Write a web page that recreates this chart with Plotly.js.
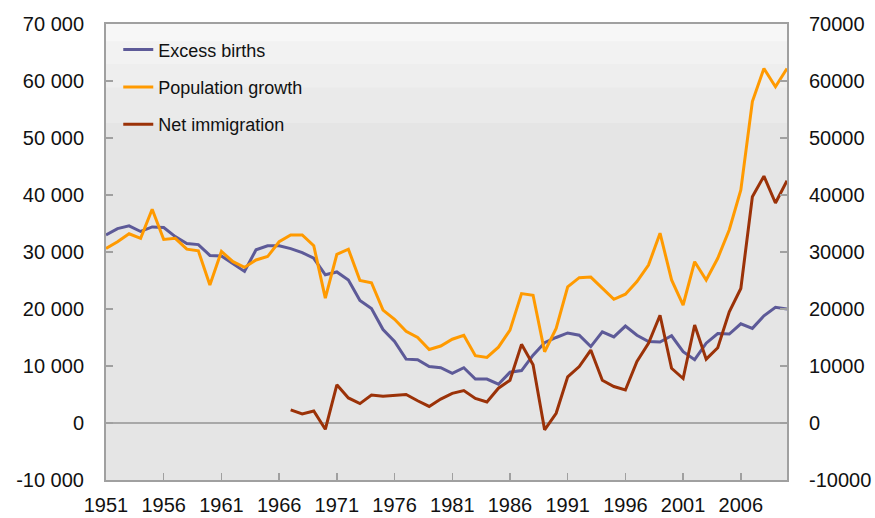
<!DOCTYPE html>
<html>
<head>
<meta charset="utf-8">
<script src="https://cdn.plot.ly/plotly-3.0.1.min.js"></script>
<style>
  html, body { margin: 0; padding: 0; background: #fff; }
  #chart { width: 875px; height: 518px; }
</style>
</head>
<body>
<div id="chart"></div>
<script>
// Years 1951-2010
const years = [];
for (let y = 1951; y <= 2010; y++) years.push(y);

const excessBirths = [
  33000, 34100, 34600, 33600, 34400, 34300, 32700, 31500, 31300, 29400,
  29300, 28000, 26600, 30400, 31100, 31100, 30600, 29900, 28900, 26000,
  26500, 25100, 21500, 20100, 16400, 14300, 11200, 11100, 9900, 9700,
  8700, 9700, 7700, 7700, 6800, 8900, 9200, 11900, 14100, 15000,
  15800, 15400, 13400, 16000, 15100, 17000, 15400, 14300, 14200, 15300,
  12500, 11100, 14000, 15700, 15600, 17400, 16600, 18800, 20300, 20000
];

const populationGrowth = [
  30600, 31800, 33200, 32400, 37500, 32200, 32400, 30500, 30200, 24200,
  30100, 28300, 27300, 28600, 29200, 31800, 33000, 33000, 31100, 21900,
  29600, 30500, 25000, 24600, 19800, 18200, 16100, 15000, 12900, 13500,
  14700, 15400, 11800, 11500, 13300, 16300, 22700, 22400, 12500, 16600,
  23900, 25500, 25600, 23600, 21700, 22600, 24800, 27700, 33300, 25100,
  20700, 28300, 25100, 28900, 33900, 40900, 56400, 62200, 59000, 62200
];

// Net immigration series starts in 1967
const netImmigration = [
  null, null, null, null, null, null, null, null, null, null,
  null, null, null, null, null, null, 2300, 1600, 2100, -1100,
  6700, 4400, 3400, 4900, 4700, 4800, 5000, 3900, 2900, 4200,
  5200, 5700, 4300, 3700, 6100, 7500, 13800, 10200, -1200, 1700,
  8100, 9900, 12800, 7500, 6400, 5800, 10800, 14000, 18900, 9600,
  7800, 17200, 11200, 13200, 19500, 23600, 39700, 43300, 38600, 42500
];

const seriesNames = ['Excess births', 'Population growth', 'Net immigration'];
const seriesColors = ['#5d5a98', '#ff9a00', '#9b3208'];

const xTickVals = [1951, 1956, 1961, 1966, 1971, 1976, 1981, 1986, 1991, 1996, 2001, 2006];
const yTickVals = [-10000, 0, 10000, 20000, 30000, 40000, 50000, 60000, 70000];
const yTickTextLeft = ['-10 000', '0', '10 000', '20 000', '30 000', '40 000', '50 000', '60 000', '70 000'];
const yTickTextRight = ['-10000', '0', '10000', '20000', '30000', '40000', '50000', '60000', '70000'];

const FONT = 'Liberation Sans, Arial, Helvetica, sans-serif';

const seriesData = [excessBirths, populationGrowth, netImmigration];
const traces = seriesData.map((vals, i) => ({
  x: years,
  y: vals,
  name: seriesNames[i],
  type: 'scatter',
  mode: 'lines',
  yaxis: i === 2 ? 'y2' : 'y',
  legendgroup: 'g' + i,
  line: { color: seriesColors[i], width: 3 },
  connectgaps: false,
  hoverinfo: 'x+y+name'
}));

// soft gradient at the top of the plot area
const bands = [
  [0.783, 0.86, '#eaeaea'],
  [0.86, 0.912, '#eeeeee'],
  [0.912, 0.961, '#f2f2f2'],
  [0.961, 1.0, '#f7f7f7']
];
const shapes = bands.map(b => ({
  type: 'rect', xref: 'paper', yref: 'paper',
  x0: 0, x1: 1, y0: b[0], y1: b[1],
  fillcolor: b[2], line: { width: 0 }, layer: 'below'
}));

const axisCommon = {
  range: [-10000, 70000],
  tickvals: yTickVals,
  ticks: 'inside',
  ticklen: 7,
  tickcolor: '#a0a0a0',
  tickwidth: 1.5,
  showgrid: false,
  showline: true,
  linecolor: '#a0a0a0',
  linewidth: 2,
  tickfont: { family: FONT, size: 20, color: '#111' },
  ticklabelstandoff: 16,
  fixedrange: true
};

const layout = {
  width: 875,
  height: 518,
  margin: { l: 106, r: 88, t: 24, b: 38 },
  paper_bgcolor: '#ffffff',
  plot_bgcolor: '#e5e5e5',
  showlegend: true,
  legend: {
    x: 0.018,
    y: 0.984,
    xanchor: 'left',
    yanchor: 'top',
    bgcolor: 'rgba(0,0,0,0)',
    traceorder: 'grouped',
    tracegroupgap: 11,
    font: { family: FONT, size: 18, color: '#111' }
  },
  xaxis: {
    range: [1951, 2010],
    tickvals: xTickVals,
    ticktext: xTickVals.map(String),
    ticks: 'inside',
    ticklen: 7,
    tickcolor: '#a0a0a0',
    tickwidth: 1.5,
    showgrid: false,
    zeroline: false,
    showline: true,
    mirror: true,
    linecolor: '#a0a0a0',
    linewidth: 2,
    tickfont: { family: FONT, size: 20, color: '#111' },
    ticklabelstandoff: 6,
    fixedrange: true
  },
  yaxis: Object.assign({}, axisCommon, {
    ticktext: yTickTextLeft,
    zeroline: true,
    zerolinecolor: '#a8a8a8',
    zerolinewidth: 2
  }),
  yaxis2: Object.assign({}, axisCommon, {
    ticktext: yTickTextRight,
    overlaying: 'y',
    side: 'right',
    anchor: 'x',
    zeroline: false
  }),
  shapes: shapes
};

Plotly.newPlot('chart', traces, layout, { displayModeBar: false, staticPlot: true });
</script>
</body>
</html>
